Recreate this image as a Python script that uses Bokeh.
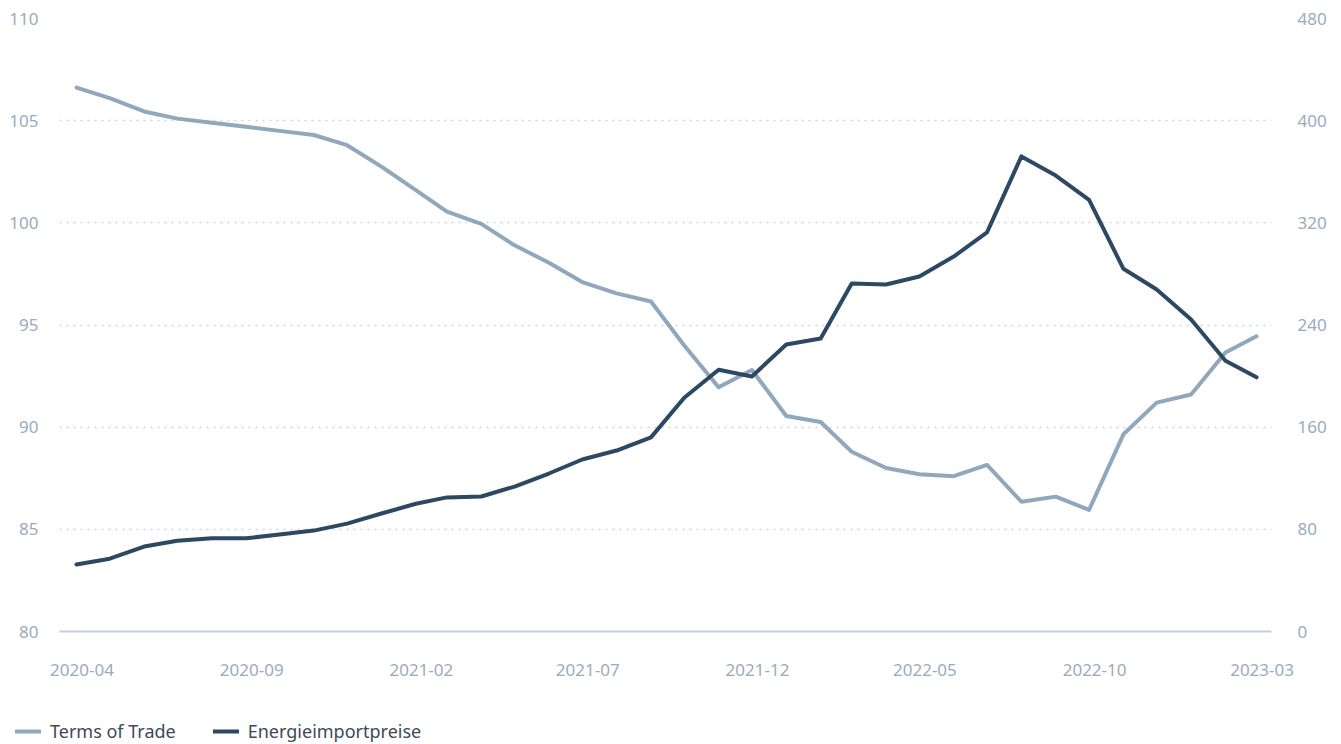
import pandas as pd
from bokeh.plotting import figure
from bokeh.layouts import column
from bokeh.models import (LinearAxis, Range1d, FixedTicker, DatetimeTickFormatter,
                          Legend, LegendItem, ColumnDataSource)
from bokeh.embed import file_html
from bokeh.resources import INLINE

months = [d.strftime("%Y-%m") for d in pd.date_range("2020-04-01", periods=36, freq="MS")]
terms_of_trade = [106.62, 106.1, 105.45, 105.1, 104.9, 104.7, 104.5, 104.3, 103.8, 102.75,
                  101.6, 100.55, 99.95, 98.9, 98.05, 97.1, 96.55, 96.15, 94.0, 91.95,
                  92.8, 90.55, 90.25, 88.8, 88.0, 87.7, 87.6, 88.15, 86.35, 86.6,
                  85.95, 89.65, 91.2, 91.6, 93.65, 94.45]
energie = [52.5, 57, 66.5, 71, 73, 73, 76, 79, 84.5, 92.4,
           100, 105, 105.7, 113.5, 123.7, 134.7, 141.7, 152, 183, 205,
           199.7, 224.7, 229.4, 272.5, 271.7, 278, 293.6, 312.5, 372, 357,
           338, 284, 267.8, 244.3, 212, 199]
x_tick_labels = ["2020-04", "2020-09", "2021-02", "2021-07", "2021-12", "2022-05", "2022-10", "2023-03"]
left_ticks = [80, 85, 90, 95, 100, 105, 110]
right_ticks = [0, 80, 160, 240, 320, 400, 480]
series_names = ["Terms of Trade", "Energieimportpreise"]

dates = pd.to_datetime(months, format="%Y-%m")
src = pd.DataFrame({"date": dates, "tot": terms_of_trade, "en": energie})
source = ColumnDataSource(src)

FONT = "Noto Sans"
LABEL_COLOR = "#9aabbe"
LIGHT = "#91a7bc"
DARK = "#2c4862"

x0 = dates[0] - pd.Timedelta(days=15.3)
x1 = dates[-1] + pd.Timedelta(days=13.5)

p = figure(width=1341, height=700, x_axis_type="datetime",
           x_range=Range1d(x0, x1), y_range=Range1d(80, 110),
           output_backend="svg", toolbar_location=None,
           min_border_left=59, min_border_right=70, min_border_top=18, min_border_bottom=69)
p.outline_line_color = None
p.background_fill_color = "white"
p.border_fill_color = "white"

p.extra_y_ranges = {"right": Range1d(0, 480)}

# grids
p.xgrid.grid_line_color = None
p.ygrid.grid_line_color = "#c9d4df"
p.ygrid.grid_line_dash = "2 5"
p.ygrid.grid_line_width = 1.5
p.ygrid.ticker = FixedTicker(ticks=left_ticks[1:])

# x axis (labels sit slightly right of the month start, as in the reference)
xa = p.xaxis[0]
xa.ticker = FixedTicker(ticks=[(pd.Timestamp(t + "-01") + pd.Timedelta(days=5)).value / 1e6
                               for t in x_tick_labels])
xa.formatter = DatetimeTickFormatter(months="%Y-%m", days="%Y-%m", years="%Y-%m")
xa.axis_line_color = "#c4cfdb"
xa.axis_line_width = 2
xa.major_tick_line_color = None
xa.minor_tick_line_color = None
xa.major_label_text_color = LABEL_COLOR
xa.major_label_text_font = FONT
xa.major_label_text_font_size = "17px"
xa.major_label_standoff = 26

# left axis
ya = p.yaxis[0]
ya.ticker = FixedTicker(ticks=left_ticks)
ya.axis_line_color = None
ya.major_tick_line_color = None
ya.minor_tick_line_color = None
ya.major_label_text_color = LABEL_COLOR
ya.major_label_text_font = FONT
ya.major_label_text_font_size = "17px"
ya.major_label_standoff = 15

# right axis
ra = LinearAxis(y_range_name="right", ticker=FixedTicker(ticks=right_ticks))
ra.axis_line_color = None
ra.major_tick_line_color = None
ra.minor_tick_line_color = None
ra.major_label_text_color = LABEL_COLOR
ra.major_label_text_font = FONT
ra.major_label_text_font_size = "17px"
ra.major_label_standoff = 20
p.add_layout(ra, "right")

line_kw = dict(line_width=4, line_join="round", line_cap="round")
p.line("date", "tot", source=source, line_color=LIGHT, **line_kw)
p.line("date", "en", source=source, y_range_name="right", line_color=DARK, **line_kw)

# legend strip below the chart
lg = figure(width=1341, height=44, output_backend="svg", toolbar_location=None,
            x_axis_location=None, y_axis_location=None,
            x_range=Range1d(x0, x1), y_range=Range1d(80, 110),
            min_border=0, min_border_left=0, min_border_right=0,
            min_border_top=0, min_border_bottom=0)
lg.outline_line_color = None
lg.xgrid.visible = False
lg.ygrid.visible = False
lg.extra_y_ranges = {"right": Range1d(0, 480)}
l1 = lg.line("date", "tot", source=source, line_color=LIGHT, visible=False, **line_kw)
l2 = lg.line("date", "en", source=source, y_range_name="right", line_color=DARK, visible=False, **line_kw)

legend = Legend(items=[LegendItem(label=series_names[0], renderers=[l1]),
                       LegendItem(label=series_names[1], renderers=[l2])],
                orientation="horizontal", location=(15, 1),
                label_text_font=FONT, label_text_font_size="18px", label_text_color="#3d4a57",
                glyph_width=26, glyph_height=18, spacing=37, label_standoff=9,
                label_height=18,
                background_fill_alpha=0, border_line_color=None, padding=0, margin=0)
lg.add_layout(legend, "center")

layout = column(p, column(lg), spacing=0)
open("out.html", "w").write(file_html(layout, INLINE))
